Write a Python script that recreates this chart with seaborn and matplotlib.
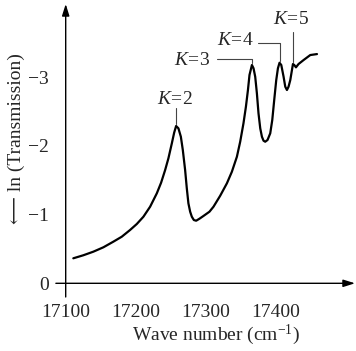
import pandas as pd
import matplotlib
matplotlib.use("Agg")
import matplotlib.pyplot as plt
import seaborn as sns

# spectrum
wavenumber = [17110.9, 17125.2, 17139.5, 17153.9, 17168.2, 17180.2, 17192.1, 17201.7,
              17211.2, 17220.8, 17230.4, 17236.5, 17242.3, 17247.0, 17251.9, 17255.2,
              17258.0, 17261.3, 17264.8, 17267.6, 17270.9, 17273.3, 17275.6, 17278.1,
              17280.5, 17283.4, 17286.7, 17291.4, 17297.1, 17305.7, 17311.5, 17321.1,
              17330.7, 17337.8, 17345.0, 17349.7, 17354.4, 17357.9, 17360.8, 17363.0,
              17366.5, 17368.8, 17371.2, 17373.6, 17375.9, 17378.4, 17380.8, 17383.1,
              17385.5, 17388.8, 17392.7, 17395.6, 17398.4, 17401.3, 17403.7, 17406.0,
              17408.5, 17411.8, 17414.2, 17416.6, 17418.9, 17421.4, 17425.2, 17427.1,
              17429.5, 17433.2, 17440.4, 17450.0, 17459.6]
ln_trans = [-0.364, -0.408, -0.46, -0.524, -0.606, -0.678, -0.776, -0.863,
            -0.969, -1.115, -1.31, -1.464, -1.649, -1.82, -2.038, -2.192,
            -2.29, -2.256, -2.134, -1.94, -1.649, -1.383, -1.164, -1.042,
            -0.969, -0.921, -0.911, -0.94, -0.98, -1.042, -1.115, -1.275,
            -1.456, -1.624, -1.843, -2.061, -2.329, -2.571, -2.814, -3.032,
            -3.178, -3.13, -3.007, -2.766, -2.475, -2.256, -2.134, -2.076,
            -2.061, -2.086, -2.183, -2.377, -2.668, -2.959, -3.13, -3.211,
            -3.178, -3.007, -2.862, -2.814, -2.862, -2.959, -3.192, -3.178,
            -3.144, -3.192, -3.25, -3.323, -3.337]

# peak assignments
peak_k = [2, 3, 4, 5]
peak_x = [17258.0, 17366.5, 17406.0, 17425.2]
peak_y = [-2.29, -3.178, -3.211, -3.192]

x_ticks = [17100, 17200, 17300, 17400]
y_ticks = [0, -1, -2, -3]

df = pd.DataFrame({"wavenumber": wavenumber, "ln_trans": ln_trans})

sns.set_style("white")
plt.rcParams["font.family"] = ["Liberation Serif", "DejaVu Serif", "DejaVu Sans"]
plt.rcParams["mathtext.fontset"] = "custom"
plt.rcParams["mathtext.rm"] = "Liberation Serif"
plt.rcParams["mathtext.it"] = "Liberation Serif:italic"

fig = plt.figure(figsize=(3.56, 3.51), dpi=100)
ax = fig.add_axes([65.7 / 356, (351 - 283.3) / 351, (355 - 65.7) / 356, (283.3 - 4) / 351])

sns.lineplot(data=df, x="wavenumber", y="ln_trans", ax=ax, color="black",
             linewidth=1.6, sort=False)
ax.lines[0].set_solid_joinstyle("round")

ax.set_xlim(17100, 17514)
ax.set_ylim(0, -4.066)
for s in ax.spines.values():
    s.set_visible(False)

fs = 14
ax.set_xticks(x_ticks)
ax.set_yticks(y_ticks)
ax.tick_params(axis="x", direction="in", length=6.5, width=0.8, color="#555555",
               pad=15, labelsize=fs)
ax.tick_params(axis="y", direction="out", length=5.8, width=0.8, color="#555555",
               pad=6.5, labelsize=fs)

# axis arrows
arrow = dict(arrowstyle="-|>,head_length=0.7,head_width=0.22", color="black",
             lw=1.0, shrinkA=0, shrinkB=0)
ax.annotate("", xy=(1.0, 0), xytext=(-0.034, 0), xycoords="axes fraction",
            arrowprops=arrow, annotation_clip=False)
ax.annotate("", xy=(0, 1.0), xytext=(0, -0.049), xycoords="axes fraction",
            arrowprops=arrow, annotation_clip=False)

ax.set_xlabel("Wave number (cm$^{-1}$)", fontsize=fs)
ax.xaxis.set_label_coords(0.52, -0.14)
ax.set_ylabel("\u27f5 ln (Transmission)", fontsize=fs)
ax.yaxis.set_label_coords(-0.14, 0.52)

# peak labels with leader lines
lead = dict(color="#444444", lw=0.8)
kfs = 14
k2, k3, k4, k5 = range(4)
ax.plot([peak_x[k2], peak_x[k2]], [peak_y[k2] - 0.03, -2.552], **lead)
ax.text(peak_x[k2] - 1.5, -2.68, f"$K\\!=\\!{peak_k[k2]}$", ha="center", va="center", fontsize=kfs)

ax.plot([peak_x[k3], peak_x[k3], 17316.8], [peak_y[k3] - 0.03, -3.265, -3.265], **lead)
ax.text(17307, -3.25, f"$K\\!=\\!{peak_k[k3]}$", ha="right", va="center", fontsize=kfs)

ax.plot([peak_x[k4], peak_x[k4], 17375.5], [peak_y[k4] - 0.03, -3.498, -3.498], **lead)
ax.text(17368.6, -3.534, f"$K\\!=\\!{peak_k[k4]}$", ha="right", va="center", fontsize=kfs)

ax.plot([peak_x[k5], peak_x[k5]], [peak_y[k5] - 0.03, -3.657], **lead)
ax.text(peak_x[k5] - 3, -3.84, f"$K\\!=\\!{peak_k[k5]}$", ha="center", va="center", fontsize=kfs)

fig.savefig("out.png", dpi=100)
